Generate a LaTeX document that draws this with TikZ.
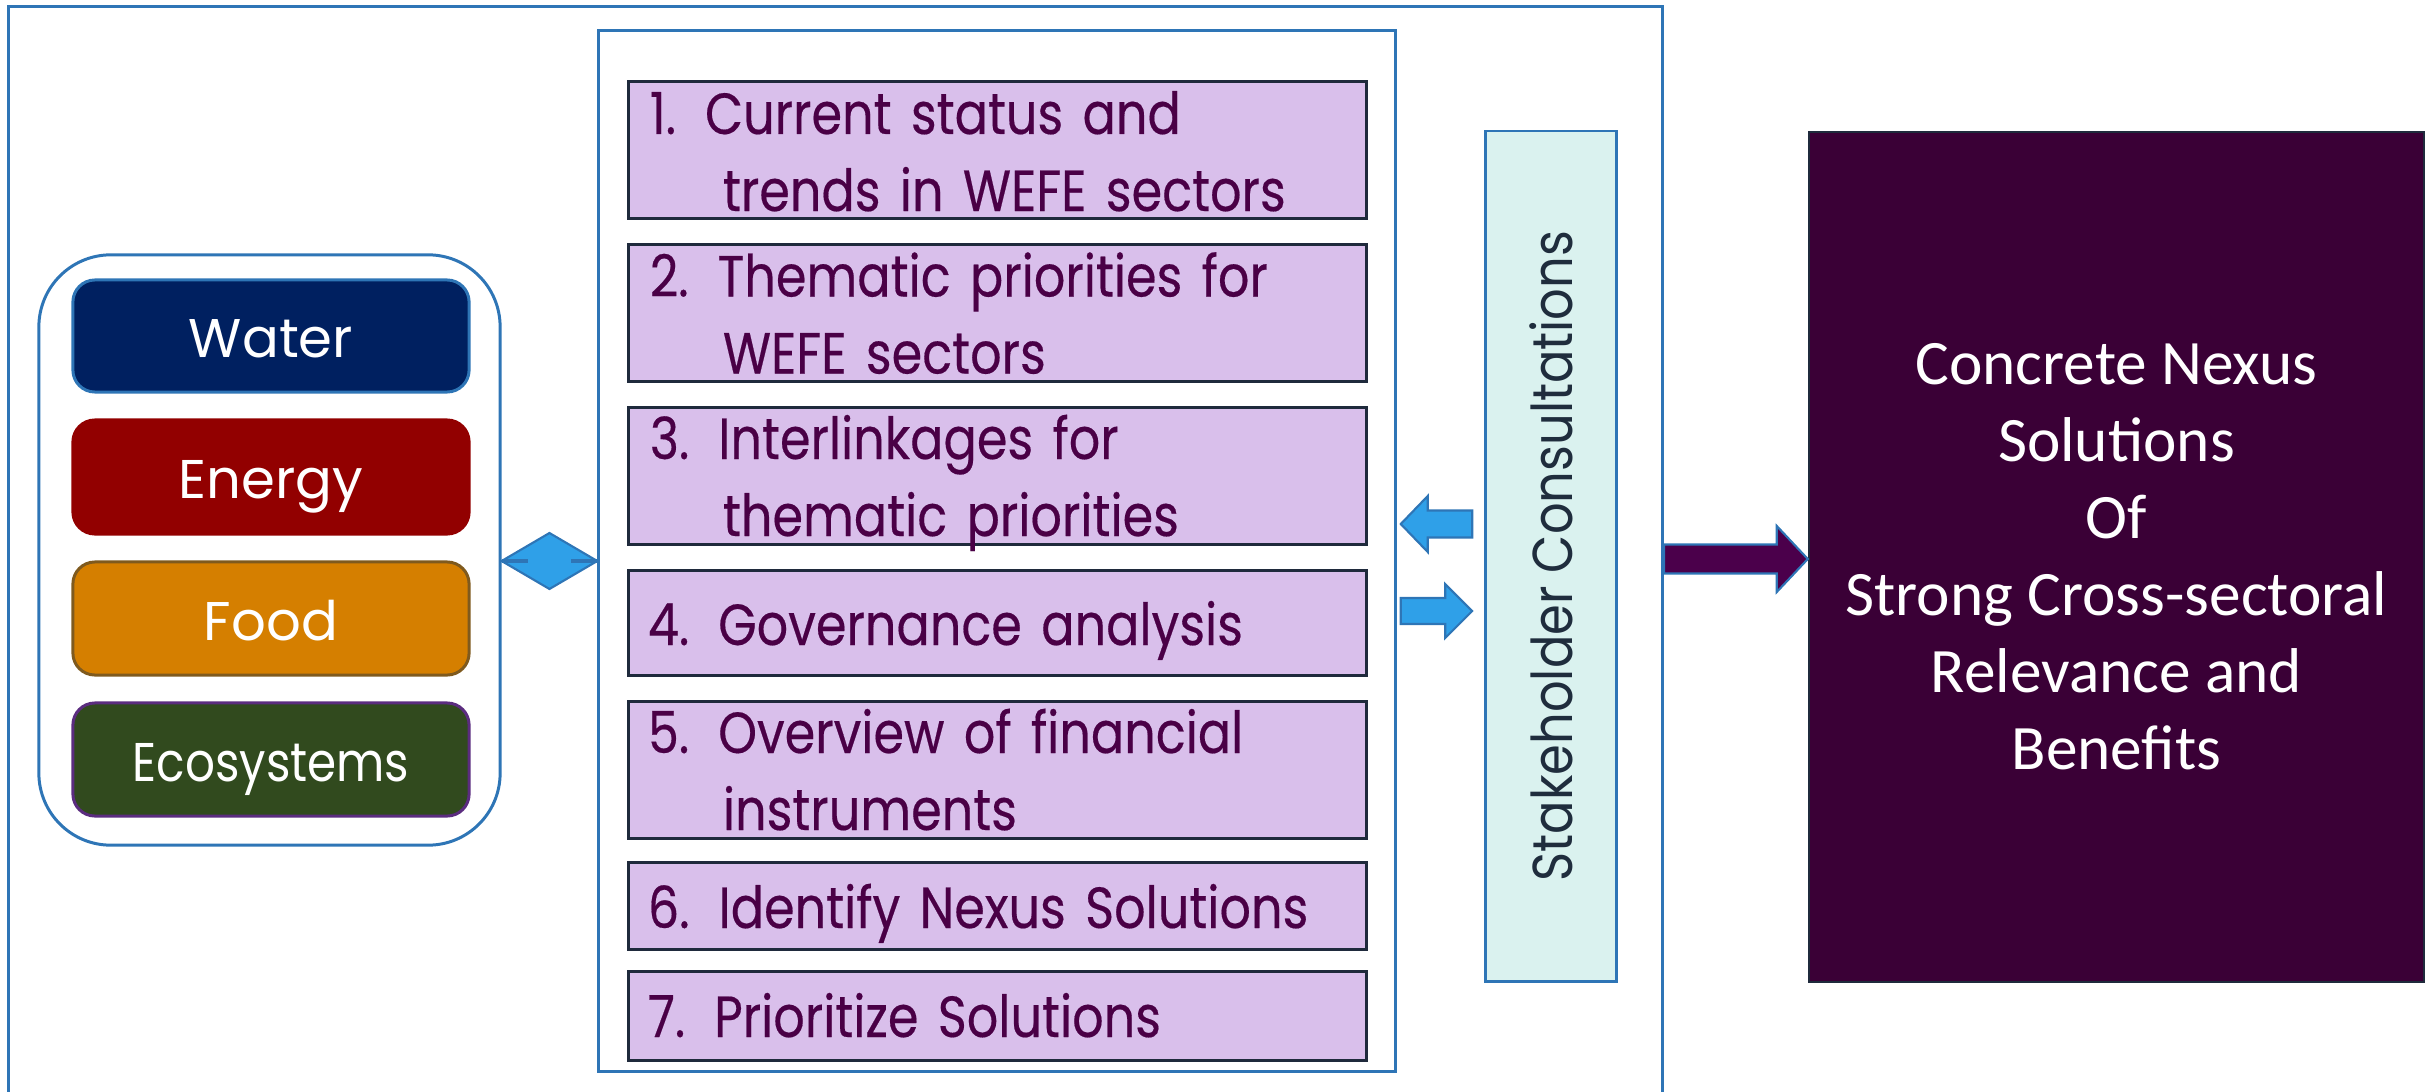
\documentclass[tikz,border=0pt]{standalone}
\usepackage{fontspec}
\usetikzlibrary{calc}
\newfontfamily\stepfont[FakeStretch=0.85, FakeBold=0.3]{Poppins}
\newfontfamily\gothic{Poppins}
\newfontfamily\gothicn[FakeStretch=0.86]{Poppins}
\newfontfamily\stakefont[FakeStretch=0.88]{Poppins}
\newfontfamily\calib{Carlito}
\definecolor{bblue}{HTML}{2E75B6}
\definecolor{afill}{HTML}{2FA0E8}
\definecolor{stepfill}{HTML}{D9BFEB}
\definecolor{stepline}{HTML}{1F2A3C}
\definecolor{steptext}{HTML}{4A0046}
\definecolor{stakefill}{HTML}{DAF2EF}
\definecolor{staketext}{HTML}{1F2D3D}
\definecolor{plum}{HTML}{3A0036}
\definecolor{bigarrow}{HTML}{4B004B}
\definecolor{waterc}{HTML}{002060}
\definecolor{energyc}{HTML}{920000}
\definecolor{foodc}{HTML}{D57F00}
\definecolor{foodline}{HTML}{7F5A1E}
\definecolor{ecoc}{HTML}{314A1E}
\definecolor{ecoline}{HTML}{5B2C7F}
\tikzset{
  frame/.style={draw=bblue, line width=0.85pt},
  sector/.style={rounded corners=0.22cm, minimum width=3.96cm, line width=0.85pt,
     text=white, font=\gothic\fontsize{15.5}{18}\selectfont, text height=12.5pt, text depth=0pt},
  stepbox/.style={draw=stepline, fill=stepfill, line width=0.9pt, minimum width=7.37cm},
  steplabel/.style={anchor=base west, inner sep=0pt, text width=7cm, align=left, text=steptext,
     font=\stepfont\fontsize{16.5}{21.9}\selectfont},
  smallarrow/.style={fill=afill, draw=bblue, line width=0.6pt, line join=miter},
}
\begin{document}
\begin{tikzpicture}[x=0.01cm,y=-0.01cm]
\useasboundingbox (0,0) rectangle (2428,1091);
% outer frame
\node[frame, minimum width=16.53cm, minimum height=11.3cm, anchor=north west, inner sep=0pt] (outer) at (7,5.5) {};
% left container
\node[frame, rounded corners=0.72cm, minimum width=4.61cm, minimum height=5.9cm] (cont) at (269.5,550) {};
\node[sector, fill=waterc, draw=bblue, minimum height=1.12cm] (water) at (271,336) {Water};
\node[sector, fill=energyc, draw=energyc, minimum height=1.14cm] (energy) at (271,477) {Energy};
\node[sector, fill=foodc, draw=foodline, minimum height=1.13cm] (food) at (271,618.5) {Food};
\node[sector, fill=ecoc, draw=ecoline, minimum height=1.13cm] (eco) at (271,759.5) {\gothicn Ecosystems};
% inner frame
\node[frame, minimum width=7.96cm, minimum height=10.4cm] (inner) at (997,551) {};
% steps
\node[stepbox, minimum height=1.375cm] (s1) at (997.5,150) {};
\node[stepbox, minimum height=1.375cm] (s2) at (997.5,313) {};
\node[stepbox, minimum height=1.365cm] (s3) at (997.5,476) {};
\node[stepbox, minimum height=1.045cm] (s4) at (997.5,623) {};
\node[stepbox, minimum height=1.365cm] (s5) at (997.5,770) {};
\node[stepbox, minimum height=0.875cm] (s6) at (997.5,906) {};
\node[stepbox, minimum height=0.885cm] (s7) at (997.5,1016) {};
\node[steplabel] (t1) at ($(s1.west |- 0,134)+(22,0)$) {1. Current status and\\\hspace*{0.73cm}trends in WEFE sectors};
\node[steplabel] (t2) at ($(s2.west |- 0,296.5)+(22,0)$) {2. Thematic priorities for\\\hspace*{0.73cm}WEFE sectors};
\node[steplabel] (t3) at ($(s3.west |- 0,459)+(22,0)$) {3. Interlinkages for\\\hspace*{0.73cm}thematic priorities};
\node[steplabel] (t4) at ($(s4.west |- 0,645)+(20,0)$) {4. Governance analysis};
\node[steplabel] (t5) at ($(s5.west |- 0,753)+(20,0)$) {5. Overview of financial\\\hspace*{0.75cm}instruments};
\node[steplabel] (t6) at ($(s6.west |- 0,928)+(20,0)$) {6. Identify Nexus Solutions};
\node[steplabel] (t7) at ($(s7.west |- 0,1037)+(20,0)$) {7. Prioritize Solutions};
% stakeholder
\node[draw=bblue, fill=stakefill, line width=0.85pt, minimum width=1.305cm, minimum height=8.495cm] (stake) at (1551,556) {};
\node[rotate=90, text=staketext, font=\stakefont\fontsize{16}{19}\selectfont] (staketxt) at (stake.center) {Stakeholder Consultations};
% result
\node[draw=stepline, fill=plum, line width=0.6pt, minimum width=6.15cm, minimum height=8.5cm,
  text=white, align=center, font=\calib\fontsize{18}{21.9}\selectfont] (result) at (2116.5,557)
  {Concrete Nexus\\Solutions\\Of\\Strong Cross-sectoral\\Relevance and\\Benefits};
% diamond (double-headed connector)
\coordinate (dl) at (cont.east |- 0,561);
\coordinate (dr) at (inner.west |- 0,561);
\draw[smallarrow] (dl) -- ($(dl)!0.5!(dr)+(0,-28)$) -- (dr) -- ($(dl)!0.5!(dr)+(0,28)$) -- cycle;
\draw[bblue, line width=1.2pt] (dl) -- ++(26,0);
\draw[bblue, line width=1.2pt] (dr) -- ++(-26,0);
% small arrows
\coordinate (Ltip) at ($(inner.east |- 0,524)+(4,0)$);
\coordinate (Ltail) at ($(stake.west |- 0,524)+(-12,0)$);
\draw[smallarrow] (Ltip) -- ++(27,-28) -- ++(0,14.5) -- ($(Ltail)+(0,-13.5)$) -- ($(Ltail)+(0,13.5)$) -- ($(Ltip)+(27,13.5)$) -- ++(0,14.5) -- cycle;
\coordinate (Rtail) at ($(inner.east |- 0,611)+(4,0)$);
\coordinate (Rtip) at ($(stake.west |- 0,611)+(-12,0)$);
\draw[smallarrow] (Rtip) -- ++(-27,-27) -- ++(0,14) -- ($(Rtail)+(0,-13)$) -- ($(Rtail)+(0,13)$) -- ($(Rtip)+(-27,13)$) -- ++(0,14) -- cycle;
% big arrow
\coordinate (Btail) at (outer.east |- 0,559);
\coordinate (Btip) at (result.west |- 0,559);
\draw[fill=bigarrow, draw=bblue, line width=0.6pt, line join=miter] (Btip) -- ++(-31,-33) -- ++(0,18.5) -- ($(Btail)+(0,-14.5)$) -- ($(Btail)+(0,14.5)$) -- ($(Btip)+(-31,14.5)$) -- ++(0,18.5) -- cycle;
\end{tikzpicture}
\end{document}
